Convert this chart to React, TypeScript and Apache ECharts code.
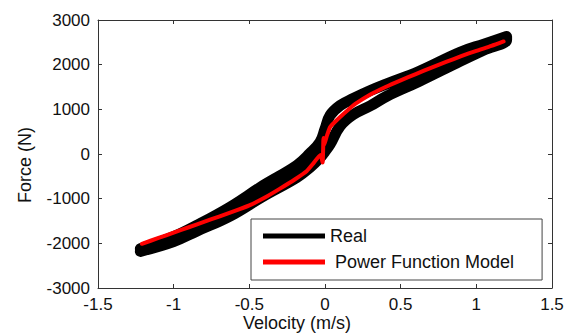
import React, { useEffect, useRef } from "react";
import * as echarts from "echarts";

// Real (measured) data: hysteresis band, lower branch going right then upper branch coming back
const realVelocity = [
  -1.22, -1.0, -0.848, -0.628, -0.408, -0.187, -0.1, -0.033, 0.0, 0.033, 0.1, 0.187, 0.3, 0.408, 0.62, 0.892, 1.05, 1.2,
  1.2, 1.05, 0.892, 0.62, 0.408, 0.3, 0.187, 0.1, 0.033, 0.0, -0.033, -0.1, -0.187, -0.408, -0.628, -0.848, -1.0, -1.22,
];
const realForce = [
  -2180, -1960, -1727, -1390, -944, -526, -302, -85, 60, 212, 622, 883, 1080, 1293, 1623, 2076, 2330, 2560,
  2630, 2460, 2277, 1847, 1570, 1420, 1242, 1085, 861, 560, 264, 11, -257, -705, -1190, -1600, -1850, -2120,
];

// Power function model
const modelVelocity = [
  -1.21, -1.1, -1.0, -0.9, -0.8, -0.7, -0.6, -0.5, -0.4, -0.3, -0.2, -0.12, -0.077, -0.03, -0.016, -0.01, -0.006,
  0.01, 0.033, 0.06, 0.1, 0.15, 0.2, 0.3, 0.4, 0.5, 0.6, 0.7, 0.8, 0.9, 1.0, 1.1, 1.18,
];
const modelForce = [
  -2010, -1880, -1760, -1640, -1520, -1400, -1280, -1150, -980, -780, -570, -380, -210, -20, -190, 360, 200,
  380, 600, 700, 830, 980, 1120, 1330, 1500, 1650, 1790, 1930, 2060, 2190, 2310, 2420, 2520,
];

const xTicks = { min: -1.5, max: 1.5, interval: 0.5 };
const yTicks = { min: -3000, max: 3000, interval: 1000 };

const seriesNames = ["Real", "Power Function Model"];
const xName = "Velocity (m/s)";
const yName = "Force (N)";

export default function App() {
  const ref = useRef<HTMLDivElement>(null);
  useEffect(() => {
    document.body.style.margin = "0";
    if (!ref.current) return;
    const chart = echarts.init(ref.current, null, { renderer: "svg" });
    const font = "Liberation Sans, Arial, sans-serif";
    const axisColor = "#333";
    const realData = realVelocity.map((v, i) => [v, realForce[i]]);
    const modelData = modelVelocity.map((v, i) => [v, modelForce[i]]);
    const baseX = {
      type: "value" as const,
      min: xTicks.min,
      max: xTicks.max,
      interval: xTicks.interval,
      splitLine: { show: false },
      axisLine: { show: true, onZero: false, lineStyle: { color: axisColor, width: 1 } },
      axisTick: { show: true, inside: true, length: 4, lineStyle: { color: axisColor } },
    };
    const baseY = {
      type: "value" as const,
      min: yTicks.min,
      max: yTicks.max,
      interval: yTicks.interval,
      splitLine: { show: false },
      axisLine: { show: true, onZero: false, lineStyle: { color: axisColor, width: 1 } },
      axisTick: { show: true, inside: true, length: 4, lineStyle: { color: axisColor } },
    };
    chart.setOption({
      animation: false,
      backgroundColor: "#fff",
      grid: { left: 98, right: 19, top: 20, bottom: 48, outerBoundsMode: "none", containLabel: false },
      xAxis: [
        {
          ...baseX,
          position: "bottom",
          name: xName,
          nameLocation: "middle",
          nameGap: 26,
          nameMoveOverlap: false,
          nameTextStyle: { fontFamily: font, fontSize: 18, color: "#111", padding: [0, 56, 0, 0] },
          axisLabel: { show: true, margin: 8, fontFamily: font, fontSize: 17, color: "#111", formatter: (v: number) => String(v) },
        },
        { ...baseX, position: "top", axisLabel: { show: false } },
      ],
      yAxis: [
        {
          ...baseY,
          position: "left",
          name: yName,
          nameLocation: "middle",
          nameGap: 64,
          nameMoveOverlap: false,
          nameTextStyle: { fontFamily: font, fontSize: 18, color: "#111", padding: [0, 22, 0, 0] },
          axisLabel: { show: true, margin: 8, fontFamily: font, fontSize: 17, color: "#111", formatter: (v: number) => String(v) },
        },
        { ...baseY, position: "right", axisLabel: { show: false } },
      ],
      legend: {
        orient: "vertical",
        left: 251,
        top: 219,
        padding: [8, 28, 9, 12],
        itemGap: 8,
        itemWidth: 62,
        itemHeight: 5,
        backgroundColor: "#fff",
        borderColor: "#444",
        borderWidth: 1,
        borderRadius: 0,
        textStyle: { fontFamily: font, fontSize: 18, color: "#111" },
        formatter: (name: string) => (name === seriesNames[1] ? "\u00a0" + name : name),
        data: [
          { name: seriesNames[0], icon: "rect", itemStyle: { color: "#000" } },
          { name: seriesNames[1], icon: "rect", itemStyle: { color: "#ff0000" } },
        ],
      },
      series: [
        {
          name: seriesNames[0],
          type: "line",
          data: realData,
          showSymbol: false,
          smooth: 0.4,
          lineStyle: { color: "#000", width: 11, cap: "round", join: "round" },
          itemStyle: { color: "#000" },
          z: 2,
        },
        {
          name: seriesNames[1],
          type: "line",
          data: modelData,
          showSymbol: false,
          smooth: 0.2,
          lineStyle: { color: "#ff0000", width: 4, cap: "round", join: "round" },
          itemStyle: { color: "#ff0000" },
          z: 3,
        },
      ],
    });
    return () => chart.dispose();
  }, []);
  return <div ref={ref} style={{ width: 571, height: 336 }} />;
}
